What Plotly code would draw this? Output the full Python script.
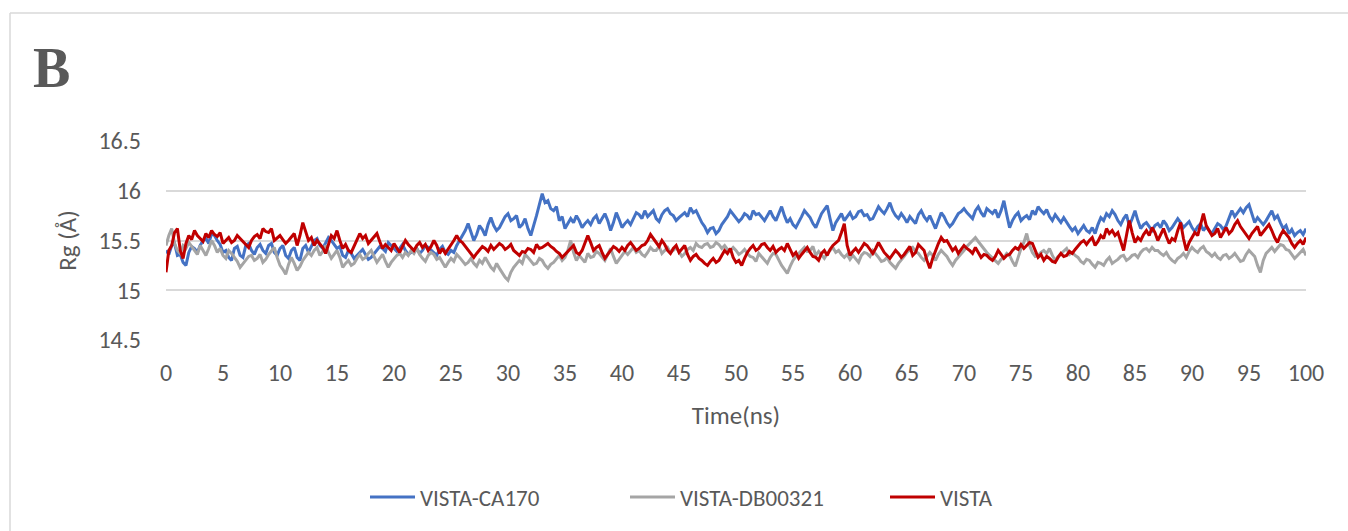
import plotly.graph_objects as go

# Time axis (ns), sampled every 0.25 ns
time_ns = [i * 0.25 for i in range(401)]

vista_ca170 = [
    15.40, 15.36, 15.45, 15.47, 15.35, 15.36, 15.28, 15.25, 15.38, 15.44, 15.42, 15.38, 15.45, 15.50, 15.52, 15.47, 15.57, 15.55, 15.50, 15.46,
    15.38, 15.40, 15.33, 15.30, 15.42, 15.44, 15.35, 15.33, 15.45, 15.47, 15.40, 15.36, 15.43, 15.46, 15.40, 15.37, 15.45, 15.47, 15.38, 15.35,
    15.42, 15.45, 15.35, 15.32, 15.40, 15.43, 15.33, 15.30, 15.42, 15.45, 15.38, 15.44, 15.50, 15.52, 15.45, 15.42, 15.47, 15.53, 15.50, 15.46,
    15.42, 15.44, 15.35, 15.33, 15.40, 15.37, 15.32, 15.35, 15.38, 15.41, 15.36, 15.31, 15.33, 15.37, 15.40, 15.44, 15.42, 15.39, 15.48, 15.45,
    15.43, 15.39, 15.42, 15.46, 15.40, 15.36, 15.38, 15.41, 15.42, 15.37, 15.40, 15.45, 15.43, 15.40, 15.38, 15.35, 15.41, 15.44, 15.38, 15.36,
    15.40, 15.38, 15.45, 15.50, 15.55, 15.60, 15.67, 15.58, 15.50, 15.56, 15.65, 15.61, 15.55, 15.66, 15.73, 15.65, 15.60, 15.63, 15.68, 15.74,
    15.77, 15.70, 15.72, 15.75, 15.63, 15.66, 15.72, 15.62, 15.55, 15.64, 15.75, 15.86, 15.97, 15.88, 15.90, 15.82, 15.80, 15.84, 15.70, 15.74,
    15.62, 15.67, 15.72, 15.68, 15.75, 15.70, 15.63, 15.67, 15.70, 15.66, 15.72, 15.75, 15.67, 15.72, 15.77, 15.70, 15.60, 15.68, 15.78, 15.71,
    15.63, 15.67, 15.70, 15.66, 15.72, 15.78, 15.76, 15.72, 15.80, 15.74, 15.77, 15.80, 15.72, 15.69, 15.76, 15.80, 15.82, 15.77, 15.75, 15.70,
    15.73, 15.76, 15.78, 15.74, 15.83, 15.78, 15.80, 15.74, 15.68, 15.64, 15.58, 15.62, 15.63, 15.57, 15.60, 15.66, 15.70, 15.74, 15.80, 15.76,
    15.73, 15.69, 15.72, 15.77, 15.75, 15.71, 15.80, 15.76, 15.77, 15.73, 15.70, 15.75, 15.80, 15.74, 15.70, 15.77, 15.84, 15.75, 15.68, 15.72,
    15.66, 15.63, 15.68, 15.74, 15.80, 15.76, 15.73, 15.67, 15.63, 15.70, 15.77, 15.81, 15.85, 15.72, 15.60, 15.68, 15.73, 15.77, 15.70, 15.74,
    15.78, 15.72, 15.74, 15.79, 15.80, 15.75, 15.76, 15.71, 15.72, 15.78, 15.84, 15.80, 15.77, 15.82, 15.88, 15.80, 15.75, 15.72, 15.77, 15.73,
    15.68, 15.74, 15.70, 15.67, 15.76, 15.80, 15.74, 15.70, 15.75, 15.69, 15.62, 15.70, 15.78, 15.74, 15.68, 15.64, 15.67, 15.72, 15.77, 15.79,
    15.82, 15.78, 15.75, 15.72, 15.80, 15.84, 15.78, 15.74, 15.82, 15.79, 15.77, 15.81, 15.73, 15.80, 15.90, 15.76, 15.63, 15.70, 15.75, 15.78,
    15.70, 15.73, 15.75, 15.71, 15.80, 15.76, 15.84, 15.80, 15.77, 15.81, 15.74, 15.70, 15.76, 15.72, 15.68, 15.73, 15.68, 15.64, 15.60, 15.63,
    15.57, 15.61, 15.65, 15.60, 15.58, 15.63, 15.57, 15.66, 15.73, 15.70, 15.77, 15.74, 15.80, 15.76, 15.70, 15.66, 15.72, 15.76, 15.65, 15.72,
    15.80, 15.70, 15.62, 15.66, 15.68, 15.64, 15.60, 15.65, 15.67, 15.63, 15.70, 15.66, 15.60, 15.63, 15.67, 15.72, 15.68, 15.63, 15.66, 15.69,
    15.63, 15.59, 15.64, 15.67, 15.60, 15.64, 15.60, 15.57, 15.62, 15.67, 15.65, 15.61, 15.65, 15.72, 15.80, 15.74, 15.78, 15.82, 15.78, 15.83,
    15.86, 15.76, 15.68, 15.73, 15.70, 15.66, 15.70, 15.75, 15.80, 15.72, 15.75, 15.68, 15.62, 15.65, 15.57, 15.61, 15.55, 15.58, 15.60, 15.56,
    15.62,
]

vista_db00321 = [
    15.45, 15.55, 15.62, 15.47, 15.40, 15.37, 15.45, 15.42, 15.48, 15.44, 15.40, 15.36, 15.45, 15.40, 15.35, 15.42, 15.50, 15.45, 15.38, 15.42,
    15.35, 15.32, 15.40, 15.37, 15.33, 15.29, 15.23, 15.27, 15.30, 15.34, 15.35, 15.30, 15.32, 15.36, 15.28, 15.31, 15.36, 15.40, 15.43, 15.33,
    15.25, 15.21, 15.16, 15.26, 15.33, 15.27, 15.20, 15.24, 15.30, 15.34, 15.38, 15.35, 15.40, 15.43, 15.35, 15.39, 15.45, 15.38, 15.32, 15.36,
    15.40, 15.33, 15.23, 15.27, 15.30, 15.25, 15.27, 15.32, 15.36, 15.31, 15.33, 15.37, 15.40, 15.34, 15.28, 15.32, 15.36, 15.29, 15.23, 15.28,
    15.32, 15.35, 15.37, 15.33, 15.38, 15.35, 15.40, 15.37, 15.42, 15.36, 15.32, 15.29, 15.35, 15.38, 15.36, 15.31, 15.33, 15.28, 15.23, 15.28,
    15.32, 15.29, 15.36, 15.33, 15.30, 15.26, 15.28, 15.32, 15.27, 15.24, 15.30, 15.27, 15.33, 15.28, 15.23, 15.20, 15.27, 15.22, 15.17, 15.13,
    15.10, 15.18, 15.23, 15.26, 15.30, 15.27, 15.36, 15.33, 15.30, 15.26, 15.27, 15.32, 15.30, 15.25, 15.22, 15.26, 15.28, 15.31, 15.35, 15.30,
    15.33, 15.40, 15.50, 15.38, 15.30, 15.35, 15.32, 15.28, 15.37, 15.33, 15.34, 15.39, 15.37, 15.33, 15.30, 15.36, 15.42, 15.34, 15.27, 15.31,
    15.35, 15.39, 15.36, 15.40, 15.43, 15.38, 15.40, 15.36, 15.34, 15.38, 15.43, 15.40, 15.40, 15.44, 15.37, 15.40, 15.43, 15.38, 15.40, 15.43,
    15.38, 15.34, 15.37, 15.41, 15.43, 15.40, 15.47, 15.44, 15.43, 15.46, 15.47, 15.43, 15.44, 15.48, 15.46, 15.42, 15.45, 15.41, 15.40, 15.43,
    15.40, 15.36, 15.38, 15.41, 15.37, 15.34, 15.33, 15.29, 15.37, 15.34, 15.30, 15.27, 15.33, 15.37, 15.36, 15.30, 15.25, 15.21, 15.17, 15.24,
    15.30, 15.34, 15.37, 15.40, 15.43, 15.39, 15.40, 15.44, 15.35, 15.39, 15.36, 15.32, 15.37, 15.40, 15.43, 15.38, 15.40, 15.36, 15.33, 15.36,
    15.31, 15.35, 15.32, 15.28, 15.35, 15.38, 15.37, 15.34, 15.40, 15.37, 15.33, 15.29, 15.30, 15.33, 15.28, 15.25, 15.22, 15.27, 15.30, 15.34,
    15.38, 15.41, 15.43, 15.39, 15.37, 15.33, 15.30, 15.34, 15.38, 15.35, 15.30, 15.36, 15.40, 15.37, 15.34, 15.29, 15.25, 15.30, 15.33, 15.37,
    15.40, 15.44, 15.47, 15.50, 15.53, 15.49, 15.45, 15.41, 15.38, 15.35, 15.32, 15.29, 15.27, 15.31, 15.33, 15.37, 15.35, 15.29, 15.24, 15.33,
    15.42, 15.48, 15.57, 15.45, 15.38, 15.34, 15.35, 15.38, 15.40, 15.37, 15.42, 15.35, 15.30, 15.34, 15.37, 15.40, 15.42, 15.36, 15.38, 15.35,
    15.33, 15.29, 15.27, 15.31, 15.30, 15.26, 15.23, 15.28, 15.27, 15.25, 15.30, 15.33, 15.27, 15.29, 15.31, 15.34, 15.35, 15.30, 15.32, 15.35,
    15.36, 15.33, 15.38, 15.41, 15.42, 15.39, 15.43, 15.40, 15.40, 15.37, 15.35, 15.38, 15.33, 15.30, 15.28, 15.32, 15.34, 15.37, 15.33, 15.39,
    15.43, 15.40, 15.38, 15.42, 15.44, 15.39, 15.37, 15.34, 15.37, 15.33, 15.31, 15.35, 15.36, 15.32, 15.34, 15.37, 15.33, 15.29, 15.30, 15.36,
    15.40, 15.37, 15.34, 15.25, 15.18, 15.30, 15.37, 15.40, 15.43, 15.39, 15.42, 15.46, 15.45, 15.41, 15.40, 15.36, 15.32, 15.35, 15.38, 15.41,
    15.35,
]

vista = [
    15.18, 15.40, 15.45, 15.58, 15.62, 15.40, 15.32, 15.47, 15.55, 15.51, 15.60, 15.55, 15.52, 15.49, 15.57, 15.53, 15.60, 15.56, 15.54, 15.58,
    15.47, 15.50, 15.53, 15.48, 15.50, 15.55, 15.52, 15.48, 15.46, 15.43, 15.50, 15.54, 15.56, 15.52, 15.62, 15.59, 15.58, 15.62, 15.50, 15.53,
    15.55, 15.51, 15.47, 15.50, 15.53, 15.57, 15.45, 15.55, 15.68, 15.58, 15.50, 15.53, 15.45, 15.50, 15.47, 15.43, 15.37, 15.45, 15.55, 15.52,
    15.60, 15.50, 15.42, 15.46, 15.40, 15.38, 15.44, 15.50, 15.57, 15.52, 15.55, 15.47, 15.50, 15.54, 15.57, 15.49, 15.42, 15.46, 15.43, 15.40,
    15.47, 15.42, 15.38, 15.44, 15.50, 15.46, 15.43, 15.40, 15.45, 15.48, 15.43, 15.46, 15.40, 15.44, 15.50, 15.45, 15.37, 15.42, 15.37, 15.41,
    15.45, 15.50, 15.55, 15.50, 15.48, 15.44, 15.40, 15.37, 15.33, 15.37, 15.40, 15.44, 15.42, 15.39, 15.45, 15.41, 15.44, 15.47, 15.45, 15.41,
    15.43, 15.46, 15.40, 15.37, 15.35, 15.39, 15.38, 15.42, 15.41, 15.38, 15.46, 15.42, 15.43, 15.45, 15.47, 15.44, 15.42, 15.39, 15.37, 15.33,
    15.36, 15.40, 15.42, 15.45, 15.38, 15.36, 15.40, 15.47, 15.55, 15.48, 15.40, 15.43, 15.45, 15.38, 15.32, 15.36, 15.40, 15.44, 15.42, 15.39,
    15.43, 15.40, 15.45, 15.48, 15.44, 15.40, 15.42, 15.45, 15.46, 15.50, 15.56, 15.52, 15.47, 15.44, 15.50, 15.46, 15.40, 15.37, 15.42, 15.45,
    15.38, 15.41, 15.45, 15.36, 15.30, 15.34, 15.36, 15.32, 15.30, 15.27, 15.25, 15.29, 15.32, 15.28, 15.30, 15.35, 15.40, 15.37, 15.42, 15.33,
    15.28, 15.30, 15.25, 15.32, 15.38, 15.42, 15.45, 15.40, 15.42, 15.46, 15.47, 15.43, 15.40, 15.44, 15.38, 15.41, 15.43, 15.40, 15.47, 15.41,
    15.35, 15.38, 15.32, 15.36, 15.40, 15.43, 15.38, 15.34, 15.33, 15.30, 15.37, 15.40, 15.35, 15.41, 15.45, 15.48, 15.50, 15.58, 15.67, 15.45,
    15.35, 15.39, 15.42, 15.38, 15.43, 15.47, 15.45, 15.41, 15.37, 15.42, 15.48, 15.43, 15.38, 15.35, 15.32, 15.36, 15.40, 15.37, 15.33, 15.36,
    15.40, 15.44, 15.35, 15.38, 15.46, 15.43, 15.40, 15.30, 15.22, 15.32, 15.40, 15.47, 15.53, 15.49, 15.50, 15.45, 15.40, 15.43, 15.37, 15.41,
    15.45, 15.42, 15.40, 15.37, 15.43, 15.38, 15.33, 15.36, 15.35, 15.32, 15.30, 15.34, 15.40, 15.36, 15.32, 15.35, 15.36, 15.40, 15.43, 15.41,
    15.46, 15.42, 15.45, 15.48, 15.47, 15.40, 15.33, 15.36, 15.30, 15.34, 15.32, 15.29, 15.28, 15.33, 15.37, 15.34, 15.35, 15.39, 15.37, 15.41,
    15.45, 15.48, 15.50, 15.46, 15.50, 15.53, 15.45, 15.49, 15.55, 15.52, 15.62, 15.57, 15.60, 15.55, 15.58, 15.50, 15.40, 15.55, 15.70, 15.58,
    15.48, 15.53, 15.50, 15.56, 15.60, 15.55, 15.63, 15.58, 15.50, 15.56, 15.62, 15.54, 15.47, 15.52, 15.50, 15.60, 15.68, 15.52, 15.40, 15.48,
    15.53, 15.58, 15.55, 15.66, 15.77, 15.65, 15.60, 15.55, 15.57, 15.62, 15.53, 15.58, 15.63, 15.57, 15.60, 15.66, 15.70, 15.64, 15.60, 15.55,
    15.52, 15.57, 15.60, 15.64, 15.55, 15.59, 15.63, 15.66, 15.60, 15.53, 15.48, 15.55, 15.60, 15.56, 15.53, 15.47, 15.43, 15.47, 15.50, 15.46,
    15.53,
]

assert len(time_ns) == len(vista_ca170) == len(vista_db00321) == len(vista)

series_names = ["VISTA-CA170", "VISTA-DB00321", "VISTA"]
series_colors = ["#4472C4", "#A5A5A5", "#C00000"]
x_ticks = list(range(0, 101, 5))
y_ticks = [14.5, 15, 15.5, 16, 16.5]

W, H = 1348, 531
L, R, T, B = 166, 42, 141, 191
pw, ph = W - L - R, H - T - B


def px(x):
    return (x - L) / pw


def py(y):
    return (H - B - y) / ph


FONT = "Calibri, Carlito, Lato, 'Open Sans', sans-serif"
GREY_TXT = "#595959"

fig = go.Figure()
for name, vals, col in zip(series_names, [vista_ca170, vista_db00321, vista], series_colors):
    fig.add_trace(go.Scatter(x=time_ns, y=vals, mode="lines", name=name,
                             line=dict(color=col, width=3)))

fig.update_layout(
    width=W, height=H,
    margin=dict(l=L, r=R, t=T, b=B),
    paper_bgcolor="white", plot_bgcolor="white",
    font=dict(family=FONT, size=24, color=GREY_TXT),
    showlegend=True,
    legend=dict(orientation="h", x=px(755), xanchor="center", y=py(497), yanchor="middle",
                font=dict(size=23, color=GREY_TXT), itemwidth=45, entrywidth=200),
    xaxis=dict(range=[0, 100], tickvals=x_ticks, showgrid=False, zeroline=False,
               showline=False, ticks="", ticklabelstandoff=16,
               tickfont=dict(size=24, color=GREY_TXT),
               title=dict(text="Time(ns)", font=dict(size=25, color=GREY_TXT), standoff=20)),
    yaxis=dict(range=[14.5, 16.5], tickvals=y_ticks, ticktext=["14.5", "15", "15.5", "16", "16.5"],
               showgrid=True, gridcolor="#D9D9D9", gridwidth=1.5, zeroline=False,
               showline=False, ticks="", ticklabelstandoff=24,
               tickfont=dict(size=24, color=GREY_TXT),
               title=dict(text="Rg (Å)", font=dict(size=25, color=GREY_TXT), standoff=14)),
)

# chart frame (top and left edge visible)
fig.add_shape(type="line", xref="paper", yref="paper", x0=px(10), x1=px(1348), y0=py(13), y1=py(13),
              line=dict(color="#D9D9D9", width=1.5))
fig.add_shape(type="line", xref="paper", yref="paper", x0=px(10), x1=px(10), y0=py(13), y1=py(531),
              line=dict(color="#D9D9D9", width=1.5))

fig.add_annotation(text="<b>B</b>", xref="paper", yref="paper", x=px(51), y=py(68),
                   xanchor="center", yanchor="middle", showarrow=False,
                   font=dict(family="'Times New Roman', 'Liberation Serif', serif", size=56, color=GREY_TXT))

fig.write_html("out.html")
